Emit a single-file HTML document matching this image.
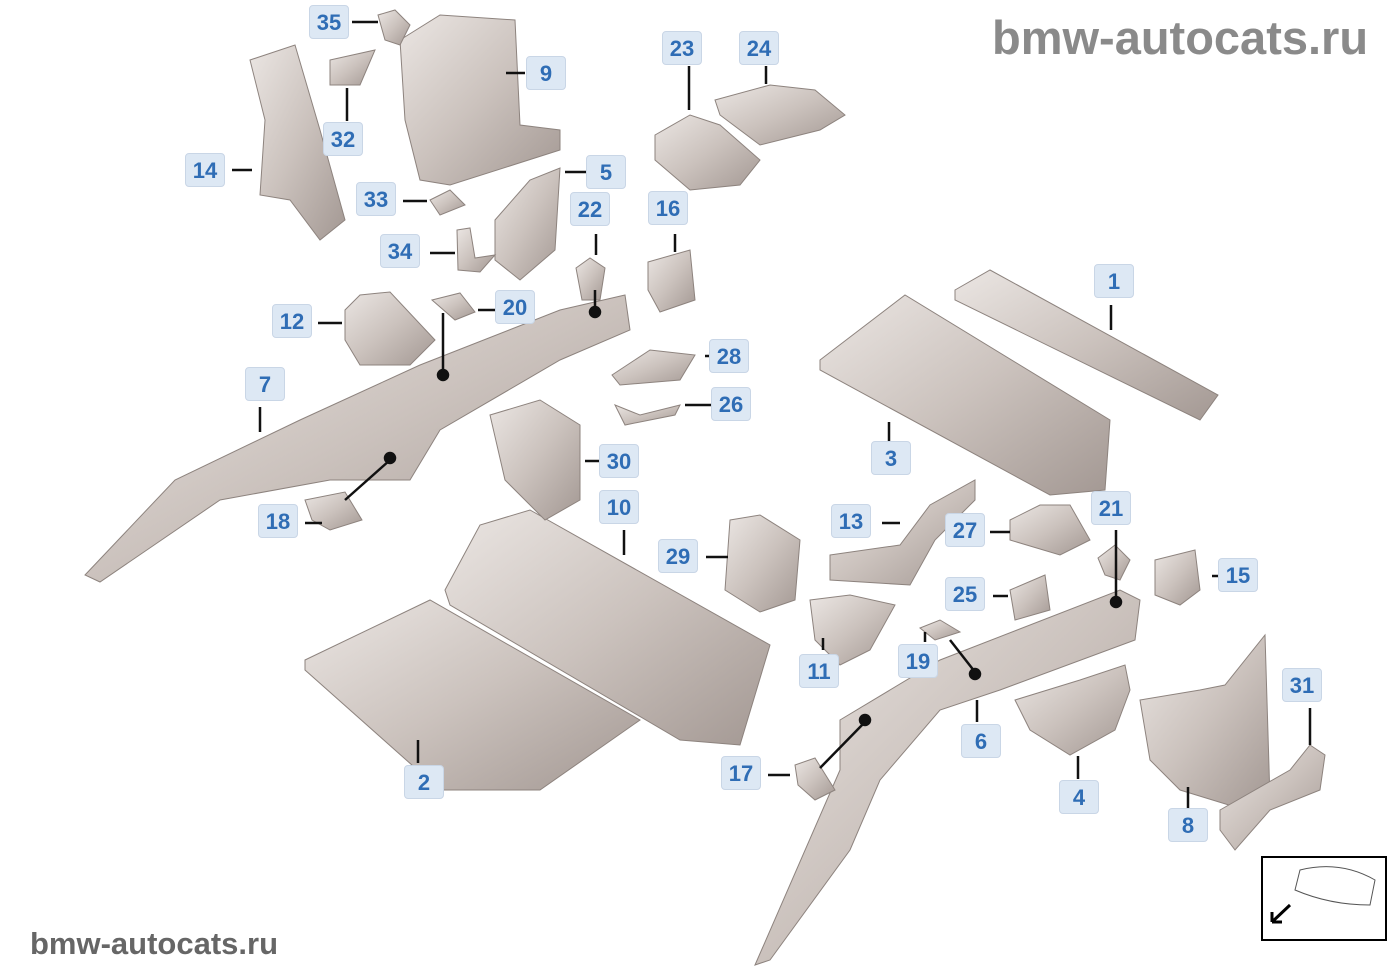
<!DOCTYPE html><html><head><style>
body{margin:0;width:1400px;height:980px;background:#fff;position:relative;overflow:hidden;font-family:"Liberation Sans",sans-serif}
.l{position:absolute;width:40px;height:34px;margin:-17px 0 0 -20px;background:#dde8f4;border:1px solid #c9d6e6;border-radius:4px;color:#2f6db5;font-weight:bold;font-size:22px;line-height:34px;text-align:center;box-sizing:border-box}
.w{position:absolute;font-weight:bold;color:#8a8a8a;white-space:nowrap}
svg{position:absolute;left:0;top:0}
</style></head><body>
<svg width="1400" height="980">
<defs><linearGradient id="g" x1="0" y1="0" x2="1" y2="1"><stop offset="0" stop-color="#ebe6e3"/><stop offset=".5" stop-color="#cbc2bd"/><stop offset="1" stop-color="#a39893"/></linearGradient></defs>
<g fill="url(#g)" stroke="#8d837e" stroke-width="1">
<polygon points="955,290 990,270 1218,395 1200,420 955,300"/>
<polygon points="820,360 905,295 1110,420 1105,490 1050,495 820,370"/>
<polygon points="305,660 430,600 640,720 540,790 440,790 305,670"/>
<polygon points="445,590 480,525 530,510 770,645 740,745 680,740 450,605"/>
<polygon points="85,575 175,480 300,420 420,365 560,310 625,295 630,330 560,360 440,430 410,480 330,480 220,500 100,582"/>
<polygon points="755,965 840,770 840,720 940,660 1120,590 1140,600 1135,640 1000,690 940,710 880,780 850,850 770,960"/>
<polygon points="400,40 440,15 515,20 520,125 560,130 560,150 450,185 420,180 405,120"/>
<polygon points="250,60 295,45 320,130 345,220 320,240 290,200 260,195 265,120"/>
<polygon points="1015,700 1080,680 1125,665 1130,690 1115,730 1070,755 1030,730"/>
<polygon points="1140,700 1200,690 1225,685 1265,635 1270,800 1245,810 1180,790 1150,760"/>
<polygon points="1220,810 1290,770 1310,745 1325,755 1320,790 1270,810 1235,850 1220,830"/>
<polygon points="495,220 530,180 560,168 555,250 520,280 495,260"/>
<polygon points="655,135 690,115 720,125 760,160 740,185 690,190 655,160"/>
<polygon points="715,100 770,85 815,90 845,115 820,130 760,145 720,115"/>
<polygon points="345,310 360,295 390,292 435,340 410,365 360,365 345,340"/>
<polygon points="490,415 540,400 580,425 580,500 545,520 505,480"/>
<polygon points="730,520 760,515 800,540 795,600 760,612 725,590"/>
<polygon points="830,555 900,545 930,505 975,480 975,500 935,540 910,585 830,580"/>
<polygon points="810,600 850,595 895,605 870,650 840,665 815,640"/>
<polygon points="1155,560 1195,550 1200,590 1180,605 1155,595"/>
<polygon points="1010,520 1040,505 1070,505 1090,540 1060,555 1010,540"/>
<polygon points="1010,590 1045,575 1050,610 1015,620"/>
<polygon points="648,262 690,250 695,300 660,312 648,290"/>
<polygon points="612,375 650,350 695,355 680,380 620,385"/>
<polygon points="615,405 640,415 680,405 675,415 625,425"/>
<polygon points="330,60 375,50 360,85 330,85"/>
<polygon points="378,15 395,10 410,25 400,45 385,40"/>
<polygon points="430,200 450,190 465,205 440,215"/>
<polygon points="457,230 470,228 475,258 495,255 480,272 458,270"/>
<polygon points="576,268 590,258 605,268 600,300 582,300"/>
<polygon points="432,300 460,293 475,312 455,320"/>
<polygon points="305,500 345,492 362,520 330,530 312,520"/>
<polygon points="920,628 940,620 960,632 935,640"/>
<polygon points="795,765 815,758 835,790 815,800 798,785"/>
<polygon points="1098,558 1115,545 1130,560 1120,580 1105,575"/>
</g>
<g stroke="#111" stroke-width="2.5" fill="#111">
<line x1="352" y1="22" x2="378" y2="22"/><line x1="506" y1="73" x2="525" y2="73"/>
<line x1="689" y1="66" x2="689" y2="110"/><line x1="766" y1="66" x2="766" y2="84"/>
<line x1="347" y1="88" x2="347" y2="121"/><line x1="232" y1="170" x2="252" y2="170"/>
<line x1="565" y1="172" x2="586" y2="172"/><line x1="403" y1="201" x2="427" y2="201"/>
<line x1="596" y1="234" x2="596" y2="255"/><line x1="675" y1="234" x2="675" y2="252"/>
<line x1="430" y1="253" x2="455" y2="253"/><line x1="1111" y1="305" x2="1111" y2="330"/>
<line x1="478" y1="310" x2="495" y2="310"/><line x1="318" y1="323" x2="342" y2="323"/>
<line x1="705" y1="356" x2="712" y2="356"/><line x1="260" y1="407" x2="260" y2="432"/>
<line x1="685" y1="405" x2="712" y2="405"/><line x1="889" y1="422" x2="889" y2="442"/>
<line x1="585" y1="461" x2="600" y2="461"/><line x1="624" y1="530" x2="624" y2="555"/>
<line x1="1116" y1="530" x2="1116" y2="600"/><line x1="305" y1="523" x2="322" y2="523"/>
<line x1="882" y1="523" x2="900" y2="523"/><line x1="990" y1="532" x2="1010" y2="532"/>
<line x1="706" y1="557" x2="728" y2="557"/><line x1="1212" y1="576" x2="1222" y2="576"/>
<line x1="993" y1="596" x2="1008" y2="596"/><line x1="925" y1="642" x2="925" y2="632"/>
<line x1="823" y1="650" x2="823" y2="638"/><line x1="1310" y1="708" x2="1310" y2="745"/>
<line x1="977" y1="700" x2="977" y2="722"/><line x1="768" y1="775" x2="790" y2="775"/>
<line x1="418" y1="740" x2="418" y2="763"/><line x1="1078" y1="756" x2="1078" y2="779"/>
<line x1="1188" y1="787" x2="1188" y2="808"/>
<line x1="443" y1="313" x2="443" y2="375"/><circle cx="443" cy="375" r="5"/>
<line x1="595" y1="290" x2="595" y2="312"/><circle cx="595" cy="312" r="5"/>
<line x1="345" y1="500" x2="390" y2="460"/><circle cx="390" cy="458" r="5"/>
<line x1="820" y1="768" x2="865" y2="722"/><circle cx="865" cy="720" r="5"/>
<line x1="950" y1="640" x2="975" y2="672"/><circle cx="975" cy="674" r="5"/>
<circle cx="1116" cy="602" r="5"/>
</g>
<rect x="1262" y="857" width="124" height="83" fill="#fff" stroke="#000" stroke-width="2"/>
<path d="M1300,870 Q1340,860 1375,880 L1370,905 Q1330,905 1295,890Z" fill="none" stroke="#555"/>
<path d="M1290,905 L1272,922 M1272,922 L1272,912 M1272,922 L1282,922" stroke="#000" stroke-width="3" fill="none"/>
</svg>
<div class="w" style="left:992px;top:10px;font-size:47px">bmw-autocats.ru</div>
<div class="w" style="left:30px;top:926px;font-size:31px;color:#666">bmw-autocats.ru</div>
<div class="l" style="left:329px;top:22px">35</div><div class="l" style="left:546px;top:73px">9</div>
<div class="l" style="left:682px;top:48px">23</div><div class="l" style="left:759px;top:48px">24</div>
<div class="l" style="left:343px;top:139px">32</div><div class="l" style="left:205px;top:170px">14</div>
<div class="l" style="left:606px;top:172px">5</div><div class="l" style="left:376px;top:199px">33</div>
<div class="l" style="left:590px;top:209px">22</div><div class="l" style="left:668px;top:208px">16</div>
<div class="l" style="left:400px;top:251px">34</div><div class="l" style="left:1114px;top:281px">1</div>
<div class="l" style="left:515px;top:307px">20</div><div class="l" style="left:292px;top:321px">12</div>
<div class="l" style="left:729px;top:356px">28</div><div class="l" style="left:265px;top:384px">7</div>
<div class="l" style="left:731px;top:404px">26</div><div class="l" style="left:891px;top:458px">3</div>
<div class="l" style="left:619px;top:461px">30</div><div class="l" style="left:619px;top:507px">10</div>
<div class="l" style="left:1111px;top:508px">21</div><div class="l" style="left:278px;top:521px">18</div>
<div class="l" style="left:851px;top:521px">13</div><div class="l" style="left:965px;top:530px">27</div>
<div class="l" style="left:678px;top:556px">29</div><div class="l" style="left:1238px;top:575px">15</div>
<div class="l" style="left:965px;top:594px">25</div><div class="l" style="left:918px;top:661px">19</div>
<div class="l" style="left:819px;top:671px">11</div><div class="l" style="left:1302px;top:685px">31</div>
<div class="l" style="left:981px;top:741px">6</div><div class="l" style="left:741px;top:773px">17</div>
<div class="l" style="left:424px;top:782px">2</div><div class="l" style="left:1079px;top:797px">4</div>
<div class="l" style="left:1188px;top:825px">8</div>
</body></html>
